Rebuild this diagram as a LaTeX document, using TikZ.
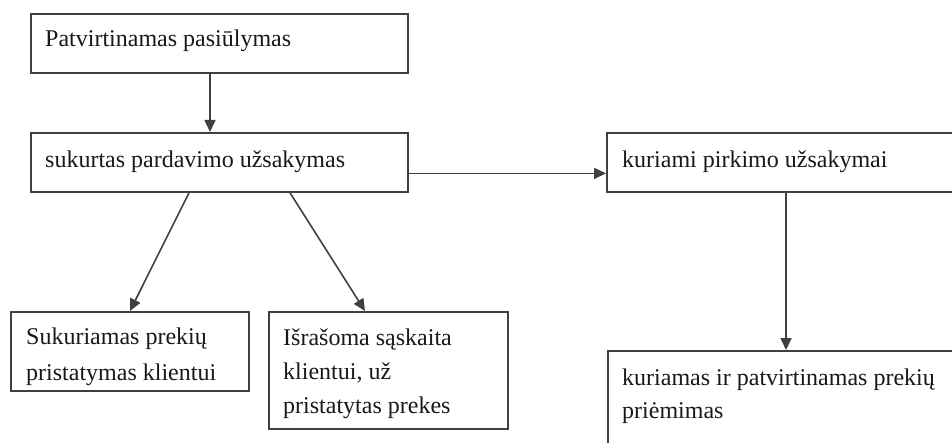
\documentclass[tikz,border=0pt]{standalone}
\usepackage{fontspec}
\setmainfont{Liberation Serif}
\usetikzlibrary{arrows.meta}
\tikzset{
  box/.style={draw=black!75, line width=1.8pt, fill=white, inner sep=0pt, anchor=north west},
  txt/.style={inner sep=0pt, anchor=base west, font=\fontsize{24}{30}\selectfont, text=black!90},
  arr/.style={draw=black!75, line width=1.6pt, -{Triangle[length=12pt,width=11pt]}}
}
\begin{document}
\begin{tikzpicture}[x=1pt,y=-1pt]
\useasboundingbox (0,0) rectangle (952,443);
\clip (0,0) rectangle (952,443);
\fill[white] (0,0) rectangle (952,443);
% boxes
\node[box, minimum width=377pt, minimum height=59pt] (b1) at (30,13) {};
\node[box, minimum width=377pt, minimum height=59pt] (b2) at (30,132) {};
\node[box, minimum width=420pt, minimum height=59pt] (b3) at (606,132) {};
\node[box, minimum width=420pt, minimum height=150pt] (b4) at (607,350) {};
\node[box, minimum width=238pt, minimum height=79pt] (b5) at (10,311) {};
\node[box, minimum width=239pt, minimum height=117pt] (b6) at (268,311) {};
% texts
\node[txt] (t1) at (45,47) {Patvirtinamas pasiūlymas};
\node[txt] (t2) at (45,168) {sukurtas pardavimo užsakymas};
\node[txt] (t3) at (622,168) {kuriami pirkimo užsakymai};
\node[txt] (t4a) at (622,385) {kuriamas ir patvirtinamas prekių};
\node[txt] (t4b) at (622,418) {priėmimas};
\node[txt] (t5a) at (26,344) {Sukuriamas prekių};
\node[txt] (t5b) at (26,380) {pristatymas klientui};
\node[txt] (t6a) at (283,345) {Išrašoma sąskaita};
\node[txt] (t6b) at (283,379) {klientui, už};
\node[txt] (t6c) at (283,413) {pristatytas prekes};
% connectors
\draw[arr] ([xshift=180pt]b1.south west) -- ([xshift=180pt]b2.north west);
\draw[arr] ([yshift=-11pt]b2.east) -- ([yshift=-11pt]b3.west);
\draw[arr] ([xshift=180pt]b3.south west) -- ([xshift=179pt]b4.north west);
\draw[arr] ([xshift=159pt]b2.south west) -- ([xshift=120pt]b5.north west);
\draw[arr] ([xshift=260pt]b2.south west) -- ([xshift=97pt]b6.north west);
\end{tikzpicture}
\end{document}
